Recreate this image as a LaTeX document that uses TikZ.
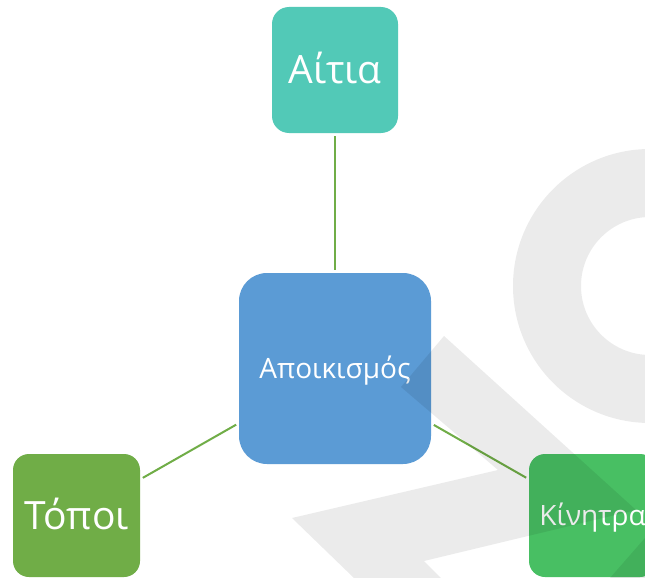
\documentclass[tikz,border=0pt]{standalone}
\usepackage{fontspec}
\setmainfont{Open Sans}
\definecolor{cteal}{HTML}{52C9B7}
\definecolor{cblue}{HTML}{5B9BD5}
\definecolor{colive}{HTML}{70AD47}
\definecolor{cgreen}{HTML}{48BF63}
\definecolor{cline}{HTML}{70AD47}
\tikzset{
  boxbase/.style={inner sep=0pt, text=white, draw=none},
  bigtext/.style={font=\fontsize{39}{40}\selectfont, text height=28pt, text depth=0pt},
  smalltext/.style={font=\fontsize{28}{30}\selectfont, text height=20pt, text depth=0pt},
  conn/.style={draw=cline, line width=2pt, shorten <=3pt, shorten >=3pt},
  wm/.style={fill=black, fill opacity=0.08}
}
\begin{document}
\begin{tikzpicture}[x=1pt, y=-1pt]
\useasboundingbox (0,0) rectangle (645,578);
\clip (0,0) rectangle (645,578);
\fill[white] (0,0) rectangle (645,578);

\node[boxbase, bigtext, fill=cteal, rounded corners=17pt, minimum width=126pt, minimum height=126pt] (aitia) at (335,70) {Αίτια};
\node[boxbase, smalltext, fill=cblue, rounded corners=28pt, minimum width=192pt, minimum height=191pt] (apo) at (335,368.5) {Αποικισμός};
\node[boxbase, bigtext, fill=colive, rounded corners=16pt, minimum width=127pt, minimum height=123pt] (topoi) at (76.5,515.5) {Τόποι};
\node[boxbase, smalltext, fill=cgreen, rounded corners=16pt, minimum width=127pt, minimum height=123pt] (kinitra) at (592.5,515.5) {Κίνητρα};

\draw[conn] (apo) -- (aitia);
\draw[conn] (apo) -- (topoi);
\draw[conn] (apo) -- (kinitra);

% watermark
\fill[wm, even odd rule] (650,286) circle[radius=137pt] (650,286) circle[radius=69pt];
\fill[wm] (444,336) -- (636,510) -- (424,561) -- (441,578) -- (354,578) -- (292,518) -- (498,470) -- (401,387) -- cycle;
\fill[wm] (610,578) -- (645,538) -- (645,578) -- cycle;
\end{tikzpicture}
\end{document}
